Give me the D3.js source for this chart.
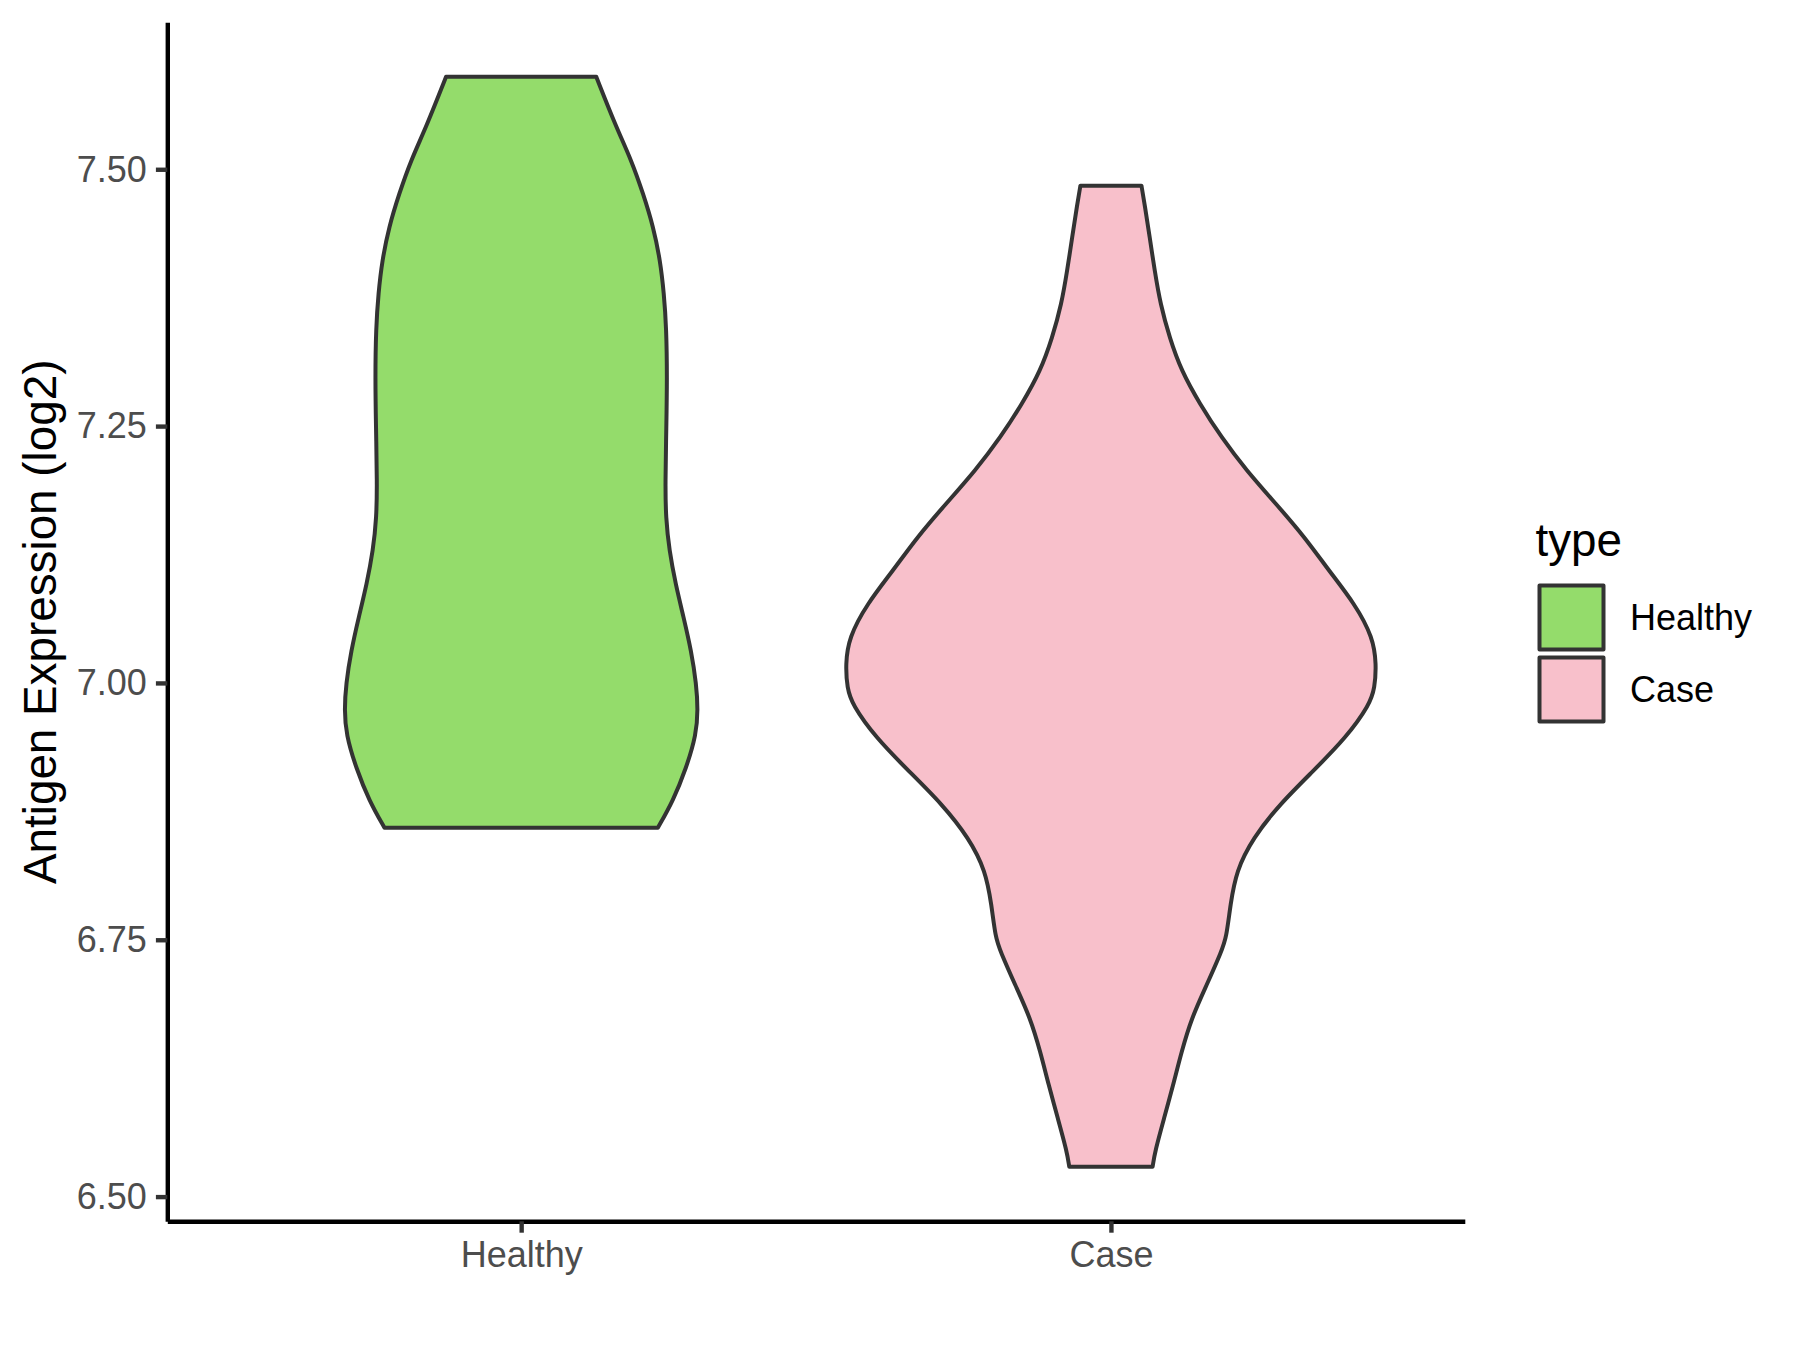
<!DOCTYPE html>
<html>
<head>
<meta charset="utf-8">
<script src="https://cdn.jsdelivr.net/npm/d3@7"></script>
<style>
    body { margin: 0; background: #ffffff; }
    #svgDiv { width: 1800px; height: 1350px; }
    text { font-family: "Liberation Sans", Arial, sans-serif; }
</style>
</head>
<body>
<div id="svgDiv"></div>
<script>
// categories and violin outlines
var categories = ["Healthy", "Case"];

// expression value (log2) and scaled violin width (1 = widest violin)
var healthyValues  = [7.590, 7.541, 7.509, 7.476, 7.444, 7.411, 7.379, 7.346, 7.297, 7.249, 7.194,
                      7.161, 7.129, 7.096, 7.064, 7.031, 6.999, 6.974, 6.950, 6.917, 6.885, 6.859];
var healthyDensity = [0.283, 0.358, 0.415, 0.460, 0.498, 0.524, 0.538, 0.547, 0.550, 0.547, 0.543,
                      0.545, 0.558, 0.582, 0.612, 0.641, 0.660, 0.666, 0.660, 0.622, 0.572, 0.515];

var caseValues  = [7.484, 7.466, 7.434, 7.401, 7.369, 7.336, 7.304, 7.272, 7.239, 7.207, 7.174,
                   7.142, 7.109, 7.077, 7.044, 7.018, 6.995, 6.979, 6.947, 6.914, 6.882, 6.849,
                   6.817, 6.784, 6.752, 6.739, 6.706, 6.674, 6.641, 6.609, 6.576, 6.544, 6.529];
var caseDensity = [0.115, 0.127, 0.146, 0.165, 0.186, 0.221, 0.265, 0.334, 0.416, 0.510, 0.623,
                   0.730, 0.822, 0.919, 0.988, 1.000, 0.994, 0.975, 0.887, 0.761, 0.636, 0.535,
                   0.472, 0.450, 0.435, 0.417, 0.361, 0.304, 0.266, 0.235, 0.200, 0.166, 0.157];

var yTicks = [6.50, 6.75, 7.00, 7.25, 7.50];

var fillColors = {"Healthy": "#94dc6b", "Case": "#f8c0cb"};

var svg, xScale, yScale;
var panel = {left: 167.3, right: 1464.8, top: 22.3, bottom: 1221.3};

document.addEventListener('DOMContentLoaded', function(){
    svg = d3.select("#svgDiv")
        .append("svg")
        .attr("width", 1800)
        .attr("height", 1350);

    var violins = [
        {type: "Healthy", points: healthyValues.map((v, i) => ({v: v, w: healthyDensity[i]}))},
        {type: "Case", points: caseValues.map((v, i) => ({v: v, w: caseDensity[i]}))}
    ];

    setScales(violins);
    drawViolins(violins);
    drawAxes();
    drawLegend();
});

function setScales(violins){
    var all = violins.flatMap(d => d.points.map(p => p.v));
    var yMin = d3.min(all), yMax = d3.max(all);
    var pad = (yMax - yMin) * 0.05;   // ggplot style expansion

    yScale = d3.scaleLinear()
        .domain([yMin - pad, yMax + pad])
        .range([panel.bottom, panel.top]);

    xScale = d3.scalePoint()
        .domain(categories)
        .range([panel.left, panel.right])
        .padding(0.6);
}

function drawViolins(violins){
    var halfWidth = 0.45 * xScale.step();

    violins.forEach(function(vio){
        var cx = xScale(vio.type);
        var area = d3.area()
            .y(d => yScale(d.v))
            .x0(d => cx - d.w * halfWidth)
            .x1(d => cx + d.w * halfWidth)
            .curve(d3.curveBasis);

        svg.append("path")
            .datum(vio.points)
            .attr("d", area)
            .attr("fill", fillColors[vio.type])
            .attr("stroke", "#333333")
            .attr("stroke-width", 4)
            .attr("stroke-linejoin", "round");
    });
}

function drawAxes(){
    var yAxis = d3.axisLeft(yScale)
        .tickValues(yTicks)
        .tickFormat(d3.format(".2f"))
        .tickSizeInner(11.4)
        .tickSizeOuter(0)
        .tickPadding(9.2);

    var gy = svg.append("g")
        .attr("transform", "translate(" + panel.left + ",0)")
        .call(yAxis);

    var xAxis = d3.axisBottom(xScale)
        .tickSizeInner(11.4)
        .tickSizeOuter(0)
        .tickPadding(9.2);

    var gx = svg.append("g")
        .attr("transform", "translate(0," + panel.bottom + ")")
        .call(xAxis);

    [gx, gy].forEach(function(g){
        g.select(".domain").attr("stroke", "#000000").attr("stroke-width", 4.4);
        g.selectAll(".tick line").attr("stroke", "#333333").attr("stroke-width", 4.4);
        g.selectAll(".tick text")
            .attr("fill", "#4d4d4d")
            .style("font-size", "36px");
    });
    gy.selectAll(".tick text").attr("dy", "0.33em");

    // y axis title
    svg.append("text")
        .attr("transform", "translate(56," + ((panel.top + panel.bottom) / 2) + ") rotate(-90)")
        .attr("text-anchor", "middle")
        .attr("fill", "#000000")
        .style("font-size", "45.8px")
        .text("Antigen Expression (log2)");
}

function drawLegend(){
    var legend = svg.append("g").attr("transform", "translate(1535.5,0)");

    legend.append("text")
        .attr("x", 0)
        .attr("y", 556)
        .attr("fill", "#000000")
        .style("font-size", "45.8px")
        .text("type");

    var keys = legend.selectAll("g.key")
        .data(categories)
        .enter().append("g")
        .attr("class", "key")
        .attr("transform", (d, i) => "translate(0," + (581.5 + i * 72) + ")");

    keys.append("rect")
        .attr("x", 4)
        .attr("y", 4)
        .attr("width", 64)
        .attr("height", 64)
        .attr("fill", d => fillColors[d])
        .attr("stroke", "#333333")
        .attr("stroke-width", 4)
        .attr("stroke-linejoin", "round");

    keys.append("text")
        .attr("x", 94.5)
        .attr("y", 36)
        .attr("dy", "0.35em")
        .attr("fill", "#000000")
        .style("font-size", "36px")
        .text(d => d);
}
</script>
</body>
</html>
